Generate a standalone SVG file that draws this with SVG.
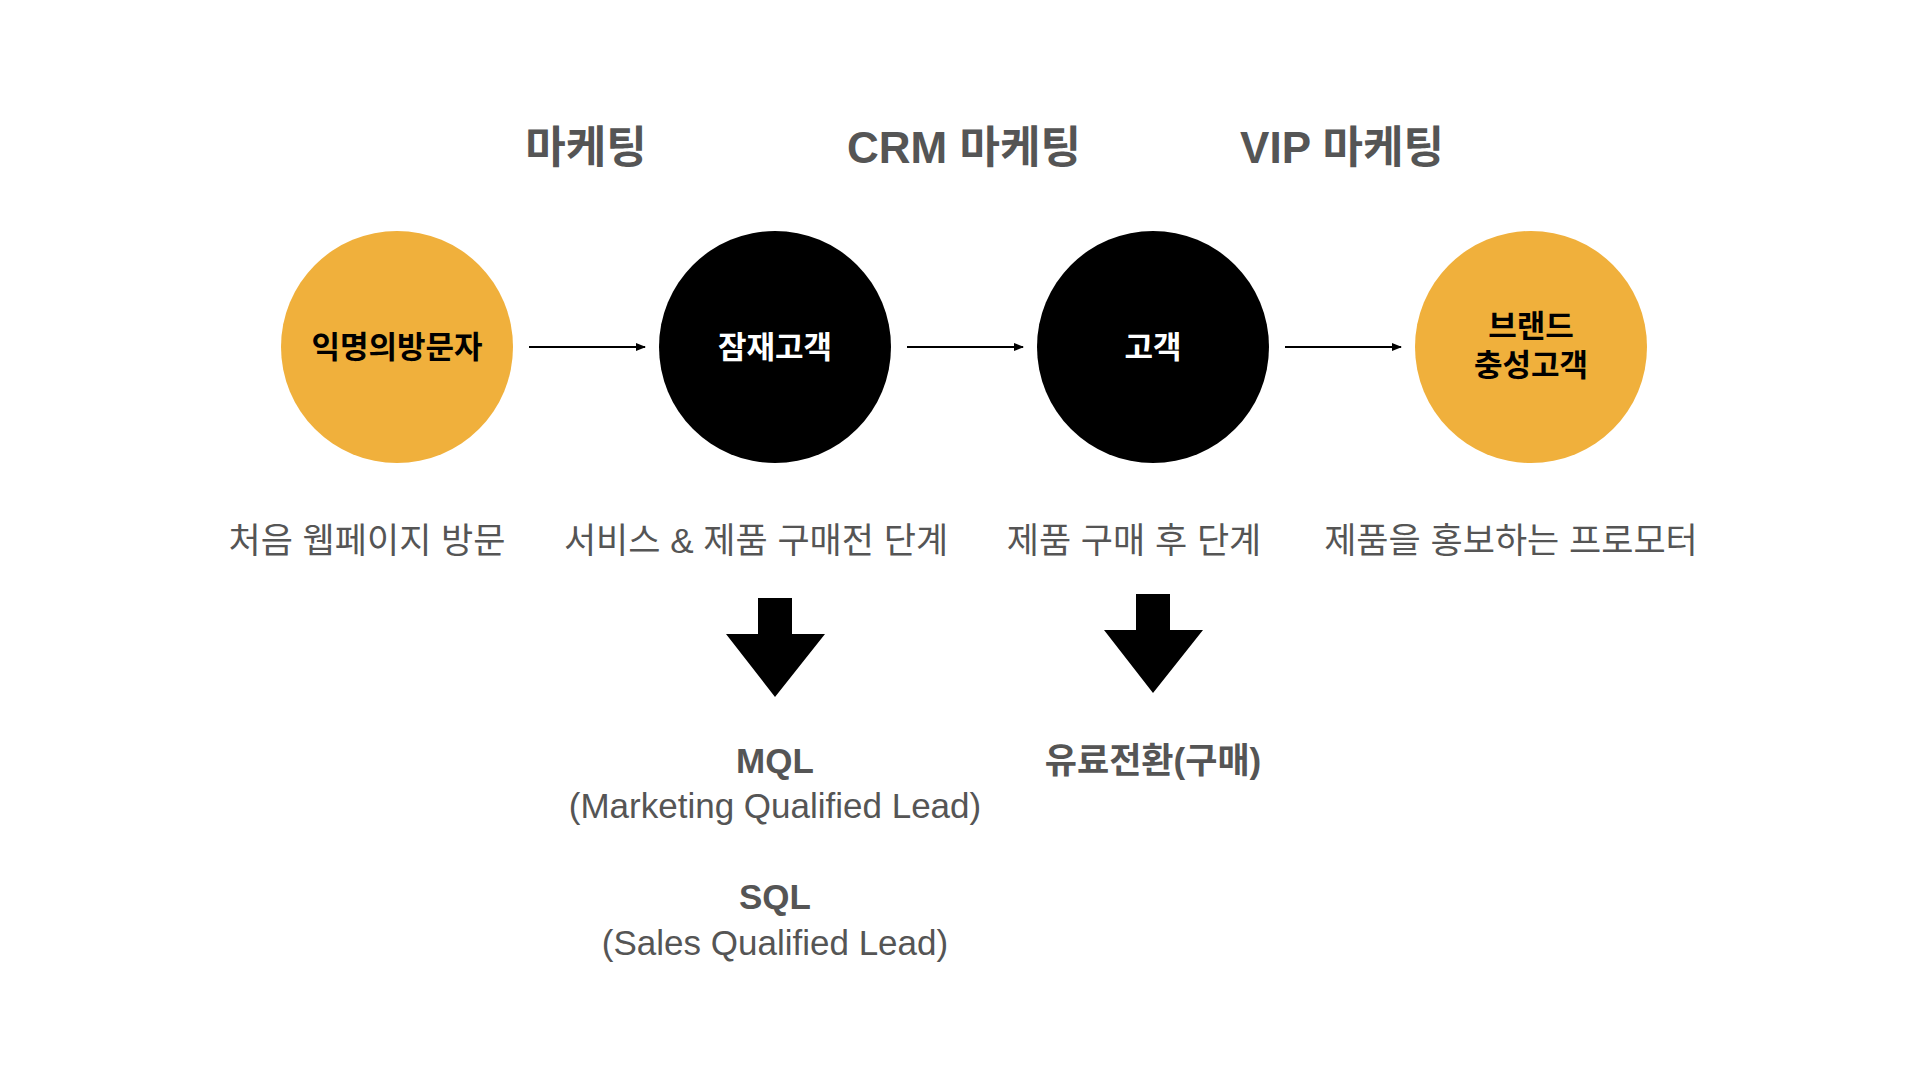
<svg xmlns="http://www.w3.org/2000/svg" width="1920" height="1080" viewBox="0 0 1920 1080">
<defs>
<style>
text{font-family:"Liberation Sans","Noto Sans CJK KR",sans-serif;text-anchor:middle}
.h{font-size:44px;font-weight:bold;fill:#555}
.d{font-size:35px;fill:#555}
.b{font-size:35px;font-weight:bold;fill:#555}
.n{font-size:31px;font-weight:bold}
.o{fill:#F0B03C}
.k{fill:#000}
</style>
<marker id="ah" markerWidth="10" markerHeight="8" refX="9" refY="4" orient="auto" markerUnits="userSpaceOnUse"><path d="M0,0 L10,4 L0,8 z" fill="#000"/></marker>
</defs>
<rect width="1920" height="1080" fill="#fff"/>
<text class="h" x="586" y="163">마케팅</text>
<text class="h" x="964" y="163">CRM 마케팅</text>
<text class="h" x="1342" y="163">VIP 마케팅</text>
<g id="n1"><circle class="o" cx="397" cy="347" r="116"/><text class="n" x="397" y="358" fill="#000">익명의방문자</text></g>
<g id="n2"><circle class="k" cx="775" cy="347" r="116"/><text class="n" x="775" y="358" fill="#fff">잠재고객</text></g>
<g id="n3"><circle class="k" cx="1153" cy="347" r="116"/><text class="n" x="1153" y="358" fill="#fff">고객</text></g>
<g id="n4"><circle class="o" cx="1531" cy="347" r="116"/><text class="n" x="1531" y="337" fill="#000">브랜드</text><text class="n" x="1531" y="376" fill="#000">충성고객</text></g>
<g id="connectors" stroke="#000" stroke-width="2" fill="none">
<line x1="529" y1="347" x2="645" y2="347" marker-end="url(#ah)"/>
<line x1="907" y1="347" x2="1023" y2="347" marker-end="url(#ah)"/>
<line x1="1285" y1="347" x2="1401" y2="347" marker-end="url(#ah)"/>
</g>
<text class="d" x="367" y="553">처음 웹페이지 방문</text>
<text class="d" x="756" y="553">서비스 &amp; 제품 구매전 단계</text>
<text class="d" x="1134" y="553">제품 구매 후 단계</text>
<text class="d" x="1511" y="553">제품을 홍보하는 프로모터</text>
<g id="down1"><path d="M758,598 H792 V634 H825 L775,697 L726,634 H758 Z" fill="#000"/></g>
<g id="down2"><path d="M1136,594 H1170 V630 H1203 L1153,693 L1104,630 H1136 Z" fill="#000"/></g>
<text class="b" x="775" y="773">MQL</text>
<text class="d" x="775" y="818">(Marketing Qualified Lead)</text>
<text class="b" x="775" y="909">SQL</text>
<text class="d" x="775" y="955">(Sales Qualified Lead)</text>
<text class="b" x="1153" y="773">유료전환(구매)</text>
</svg>
